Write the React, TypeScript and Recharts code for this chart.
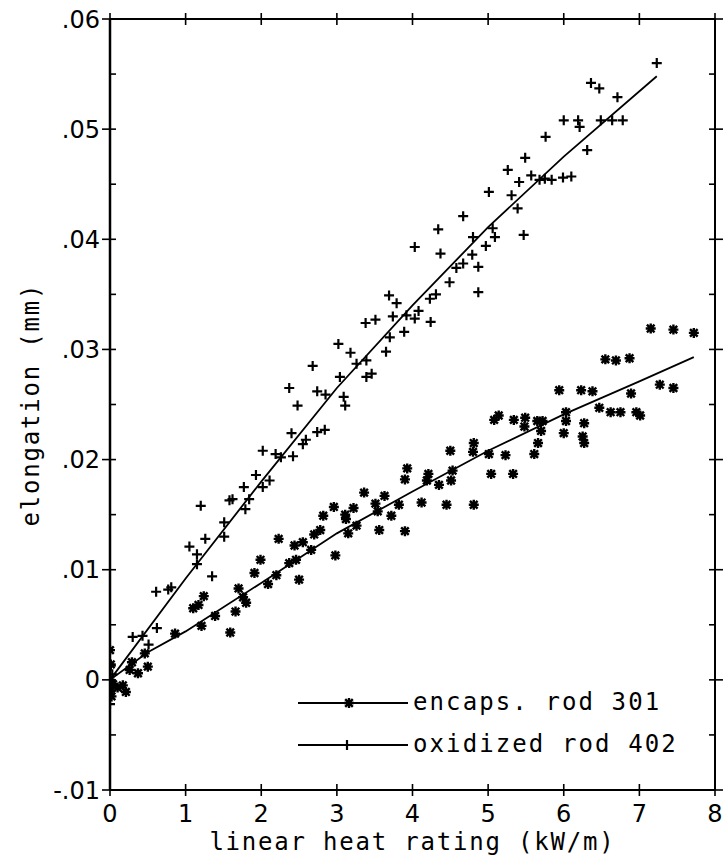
import React from 'react';
import { ScatterChart, Scatter, XAxis, YAxis, Label } from 'recharts';

// axis ticks
const xTicks = [0, 1, 2, 3, 4, 5, 6, 7, 8];
const yMajorTicks = [-0.01, 0, 0.01, 0.02, 0.03, 0.04, 0.05, 0.06];
const yMajorLabels = ['-.01', '0', '.01', '.02', '.03', '.04', '.05', '.06'];
const yMinorTicks = [-0.005, 0.005, 0.015, 0.025, 0.035, 0.045, 0.055];

// measured points: [linear heat rating kW/m, elongation mm]
const rod301: [number, number][] = [
  [0.0, 0.0027], [0.01, 0.0014], [0.0, 0.0], [0.01, -0.001], [0.02, -0.0015],
  [0.04, -0.0004], [0.1, -0.0007], [0.17, -0.0005], [0.21, -0.0011], [0.26, 0.0009],
  [0.29, 0.0016], [0.37, 0.0006], [0.46, 0.0024], [0.5, 0.0012], [0.86, 0.0042],
  [1.1, 0.0065], [1.17, 0.0068], [1.21, 0.0049], [1.24, 0.0076], [1.39, 0.0058],
  [1.59, 0.0043], [1.66, 0.0062], [1.7, 0.0083], [1.76, 0.0075], [1.8, 0.007],
  [1.91, 0.0097], [1.99, 0.0109], [2.09, 0.0087], [2.2, 0.0095], [2.23, 0.0128],
  [2.37, 0.0106], [2.44, 0.0122], [2.46, 0.0109], [2.5, 0.0091], [2.55, 0.0125],
  [2.66, 0.0118], [2.7, 0.0132], [2.78, 0.0136], [2.82, 0.0149], [2.96, 0.0157],
  [2.98, 0.0113], [3.11, 0.015], [3.12, 0.0146], [3.15, 0.0133], [3.22, 0.0156],
  [3.26, 0.014], [3.36, 0.017], [3.51, 0.016], [3.54, 0.0153], [3.56, 0.0136],
  [3.63, 0.0167], [3.72, 0.0149], [3.82, 0.0159], [3.9, 0.0182], [3.9, 0.0135],
  [3.93, 0.0192], [4.12, 0.0161], [4.19, 0.0181], [4.21, 0.0187], [4.35, 0.0177],
  [4.45, 0.0159], [4.5, 0.0208], [4.51, 0.0181], [4.53, 0.019], [4.8, 0.0207],
  [4.81, 0.0215], [4.81, 0.0159], [5.01, 0.0205], [5.04, 0.0187], [5.08, 0.0236],
  [5.14, 0.024], [5.23, 0.0204], [5.33, 0.0187], [5.34, 0.0236], [5.48, 0.023],
  [5.49, 0.0238], [5.61, 0.0205], [5.65, 0.0235], [5.66, 0.0215], [5.7, 0.0226],
  [5.72, 0.0235], [5.94, 0.0263], [6.0, 0.0224], [6.03, 0.0243], [6.03, 0.0235],
  [6.23, 0.0263], [6.25, 0.0221], [6.27, 0.0233], [6.27, 0.0215], [6.38, 0.0262],
  [6.47, 0.0247], [6.55, 0.0291], [6.62, 0.0243], [6.69, 0.029], [6.75, 0.0243],
  [6.87, 0.0292], [6.89, 0.026], [6.96, 0.0243], [7.01, 0.024], [7.15, 0.0319],
  [7.27, 0.0268], [7.45, 0.0318], [7.45, 0.0265], [7.72, 0.0315],
];

const rod402: [number, number][] = [
  [0.0, -0.0022], [0.01, 0.0013], [0.03, 0.0005], [0.3, 0.0039], [0.43, 0.004],
  [0.51, 0.0032], [0.62, 0.0047], [0.61, 0.008], [0.77, 0.0082], [0.81, 0.0084],
  [1.05, 0.0121], [1.15, 0.0114], [1.15, 0.0105], [1.2, 0.0158], [1.26, 0.0128],
  [1.35, 0.0094], [1.51, 0.0143], [1.51, 0.013], [1.58, 0.0163], [1.62, 0.0164],
  [1.77, 0.0175], [1.79, 0.0155], [1.84, 0.0164], [1.93, 0.0186], [2.02, 0.0175],
  [2.11, 0.0181], [2.02, 0.0208], [2.19, 0.0205], [2.26, 0.0202], [2.42, 0.0203],
  [2.4, 0.0224], [2.37, 0.0265], [2.48, 0.0249], [2.55, 0.0214], [2.59, 0.0218],
  [2.68, 0.0285], [2.74, 0.0225], [2.74, 0.0262], [2.84, 0.0227], [2.85, 0.0259],
  [3.02, 0.0305], [3.04, 0.0275], [3.09, 0.0257], [3.11, 0.0249], [3.18, 0.0297],
  [3.26, 0.0287], [3.38, 0.0324], [3.39, 0.029], [3.39, 0.0275], [3.46, 0.0278],
  [3.51, 0.0327], [3.65, 0.0298], [3.69, 0.0349], [3.7, 0.0311], [3.74, 0.033],
  [3.79, 0.0342], [3.89, 0.0316], [3.92, 0.0331], [4.03, 0.0328], [4.03, 0.0393],
  [4.08, 0.0335], [4.23, 0.0346], [4.24, 0.0325], [4.31, 0.035], [4.34, 0.0409],
  [4.37, 0.0387], [4.49, 0.0361], [4.58, 0.0374], [4.67, 0.0421], [4.67, 0.0378],
  [4.79, 0.0386], [4.8, 0.0402], [4.87, 0.0375], [4.87, 0.0352], [4.97, 0.0394],
  [5.01, 0.0443], [5.06, 0.041], [5.09, 0.0402], [5.26, 0.0463], [5.31, 0.044],
  [5.39, 0.0428], [5.41, 0.0452], [5.47, 0.0404], [5.49, 0.0474], [5.57, 0.0458],
  [5.68, 0.0454], [5.75, 0.0455], [5.76, 0.0493], [5.84, 0.0454], [5.99, 0.0456],
  [6.0, 0.0508], [6.1, 0.0457], [6.19, 0.0508], [6.21, 0.0502], [6.31, 0.0481],
  [6.36, 0.0542], [6.47, 0.0537], [6.49, 0.0508], [6.64, 0.0508], [6.71, 0.0529],
  [6.78, 0.0508], [7.23, 0.056],
];

// fitted curves
const fit301: [number, number][] = [
  [0, 0], [0.5, 0.0025], [1, 0.0044], [2, 0.0088], [3, 0.0133], [4, 0.0171],
  [5, 0.0208], [6, 0.0241], [7, 0.0271], [7.72, 0.0293],
];
const fit402: [number, number][] = [
  [0, 0], [1, 0.0092], [2, 0.018], [3, 0.0265], [4, 0.034], [5, 0.0411],
  [6, 0.0475], [7.23, 0.0548],
];

const toXY = (pts: [number, number][]) => pts.map(([x, y]) => ({ x, y }));

const INK = '#000';
const TICK_FONT = '"DejaVu Sans", sans-serif';
const TEXT_FONT = '"DejaVu Sans Mono", monospace';

const majorIndex = (v: number) => yMajorTicks.findIndex((m) => Math.abs(m - v) < 1e-9);

const PlusMark = ({ cx, cy }: any) => (
  <path d={`M${cx - 5},${cy}H${cx + 5}M${cx},${cy - 5}V${cy + 5}`} stroke={INK} strokeWidth={2.2} fill="none" />
);

const StarMark = ({ cx, cy }: any) => (
  <path
    d={`M${cx - 5},${cy}H${cx + 5}M${cx},${cy - 5}V${cy + 5}M${cx - 3.8},${cy - 3.8}L${cx + 3.8},${cy + 3.8}M${cx - 3.8},${cy + 3.8}L${cx + 3.8},${cy - 3.8}`}
    stroke={INK}
    strokeWidth={2.4}
    fill="none"
  />
);

const NoMark = () => <g />;

// ticks drawn by hand so they cross the frame like the plotter output
const LeftTick = ({ x, y, payload }: any) => {
  const i = majorIndex(payload.value);
  if (i < 0) return <line x1={x} x2={x + 6} y1={y} y2={y} stroke={INK} strokeWidth={1.6} />;
  return (
    <g>
      <line x1={x - 8} x2={x + 6} y1={y} y2={y} stroke={INK} strokeWidth={1.6} />
      <text x={x - 10} y={y} dy="0.36em" textAnchor="end" fontFamily={TICK_FONT} fontSize={24} fill={INK}>
        {yMajorLabels[i]}
      </text>
    </g>
  );
};

const RightTick = ({ x, y, payload }: any) => {
  const major = majorIndex(payload.value) >= 0;
  return <line x1={x - 6} x2={major ? x + 8 : x} y1={y} y2={y} stroke={INK} strokeWidth={1.6} />;
};

const BottomTick = ({ x, y, payload }: any) => (
  <g>
    <line x1={x} x2={x} y1={y - 6} y2={y + 6} stroke={INK} strokeWidth={1.6} />
    <text x={x} y={y + 32} textAnchor="middle" fontFamily={TICK_FONT} fontSize={24} fill={INK}>
      {payload.value}
    </text>
  </g>
);

const TopTick = ({ x, y }: any) => (
  <line x1={x} x2={x} y1={y - 6} y2={y + 6} stroke={INK} strokeWidth={1.6} />
);

const XTitle = ({ viewBox }: any) => (
  <text
    x={viewBox.x + viewBox.width / 2}
    y={viewBox.y + 60}
    textAnchor="middle"
    fontFamily={TEXT_FONT}
    fontSize={24}
    letterSpacing={1.8}
    fill={INK}
  >
    linear heat rating (kW/m)
  </text>
);

const YTitle = ({ viewBox }: any) => {
  const cx = viewBox.x + 39;
  const cy = viewBox.y + viewBox.height / 2;
  return (
    <text
      x={cx}
      y={cy}
      transform={`rotate(-90, ${cx}, ${cy})`}
      textAnchor="middle"
      fontFamily={TEXT_FONT}
      fontSize={24}
      letterSpacing={1.8}
      fill={INK}
    >
      elongation (mm)
    </text>
  );
};

const legendItems = [
  { label: 'encaps. rod 301', mark: 'star', top: 703 },
  { label: 'oxidized rod 402', mark: 'plus', top: 745 },
];

const LegendBox = () => (
  <svg width={726} height={860} style={{ position: 'absolute', left: 0, top: 0, pointerEvents: 'none' }}>
    {legendItems.map((it) => (
      <g key={it.label}>
        <line x1={298} x2={408} y1={it.top} y2={it.top} stroke={INK} strokeWidth={1.8} />
        {it.mark === 'star' ? <StarMark cx={349} cy={it.top} /> : <PlusMark cx={347} cy={it.top} />}
        <text x={413} y={it.top} dy="0.3em" fontFamily={TEXT_FONT} fontSize={24} letterSpacing={2.1} fill={INK}>
          {it.label}
        </text>
      </g>
    ))}
  </svg>
);

export default function App() {
  return (
    <div style={{ position: 'absolute', left: 0, top: 0, width: 726, height: 860, background: '#fff' }}>
      <ScatterChart width={726} height={860} margin={{ top: 0, right: 0, bottom: 0, left: 0 }}>
        <XAxis
          xAxisId="bottom"
          dataKey="x"
          type="number"
          domain={[0, 8]}
          ticks={xTicks}
          interval={0}
          allowDataOverflow
          height={70}
          tickSize={0}
          tickMargin={0}
          tickLine={false}
          axisLine={{ stroke: INK, strokeWidth: 2 }}
          tick={<BottomTick />}
        >
          <Label content={<XTitle />} />
        </XAxis>
        <XAxis
          xAxisId="top"
          orientation="top"
          dataKey="x"
          type="number"
          domain={[0, 8]}
          ticks={xTicks}
          interval={0}
          allowDataOverflow
          height={19}
          tickSize={0}
          tickMargin={0}
          tickLine={false}
          axisLine={{ stroke: INK, strokeWidth: 2 }}
          tick={<TopTick />}
        />
        <YAxis
          yAxisId="left"
          dataKey="y"
          type="number"
          domain={[-0.01, 0.06]}
          ticks={[...yMajorTicks, ...yMinorTicks].sort((a, b) => a - b)}
          interval={0}
          allowDataOverflow
          width={110}
          tickSize={0}
          tickMargin={0}
          tickLine={false}
          axisLine={{ stroke: INK, strokeWidth: 2.5 }}
          tick={<LeftTick />}
        >
          <Label content={<YTitle />} />
        </YAxis>
        <YAxis
          yAxisId="right"
          orientation="right"
          dataKey="y"
          type="number"
          domain={[-0.01, 0.06]}
          ticks={[...yMajorTicks, ...yMinorTicks].sort((a, b) => a - b)}
          interval={0}
          allowDataOverflow
          width={11}
          tickSize={0}
          tickMargin={0}
          tickLine={false}
          axisLine={{ stroke: INK, strokeWidth: 2 }}
          tick={<RightTick />}
        />
        <Scatter
          name="encaps. rod 301"
          data={toXY(rod301)}
          xAxisId="bottom"
          yAxisId="left"
          shape={<StarMark />}
          isAnimationActive={false}
        />
        <Scatter
          name="oxidized rod 402"
          data={toXY(rod402)}
          xAxisId="bottom"
          yAxisId="left"
          shape={<PlusMark />}
          isAnimationActive={false}
        />
        {/* fit curves go on the frame axes (same domains) so those axes are in use */}
        <Scatter
          data={toXY(fit301)}
          xAxisId="top"
          yAxisId="right"
          line={{ stroke: INK, strokeWidth: 1.8 }}
          lineType="joint"
          shape={<NoMark />}
          isAnimationActive={false}
        />
        <Scatter
          data={toXY(fit402)}
          xAxisId="top"
          yAxisId="right"
          line={{ stroke: INK, strokeWidth: 1.8 }}
          lineType="joint"
          shape={<NoMark />}
          isAnimationActive={false}
        />
      </ScatterChart>
      <LegendBox />
    </div>
  );
}
